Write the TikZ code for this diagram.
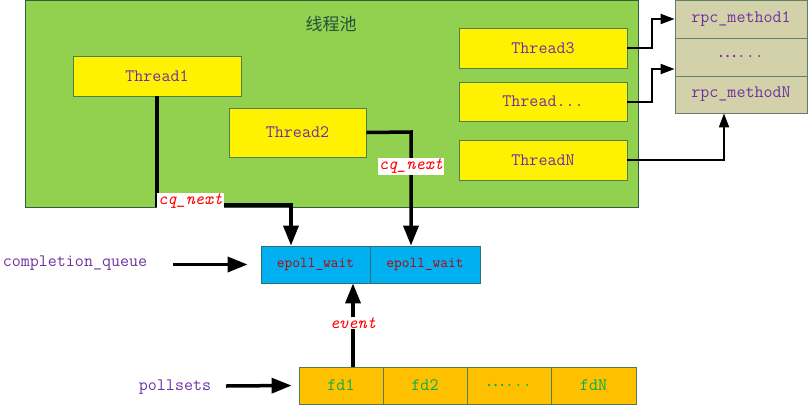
\documentclass[tikz,border=0pt]{standalone}
\usepackage{fontspec}
\newfontfamily\cjk{Noto Sans CJK SC}
\usetikzlibrary{arrows.meta}
\definecolor{poolgreen}{HTML}{92D050}
\definecolor{pooledge}{HTML}{2F5F3A}
\definecolor{boxedge}{HTML}{4F7F4F}
\definecolor{txtpurple}{HTML}{7030A0}
\definecolor{rpcfill}{HTML}{D3D1AA}
\definecolor{rpcedge}{HTML}{5F7F6A}
\definecolor{epblue}{HTML}{00B0F0}
\definecolor{epedge}{HTML}{2F6F6F}
\definecolor{eptxt}{HTML}{C00000}
\definecolor{fdorange}{HTML}{FFC000}
\definecolor{fdtxt}{HTML}{00B050}
\definecolor{titlecol}{HTML}{24503A}
\tikzset{
  mono/.style={font=\ttfamily\fontsize{17.5}{20}\selectfont},
  thread/.style={draw=boxedge, fill=yellow, mono, text=txtpurple, inner sep=0pt, line width=0.8pt},
  rpc/.style={draw=rpcedge, fill=rpcfill, mono, text=txtpurple, inner sep=0pt, minimum width=132pt, line width=0.8pt},
  ep/.style={draw=epedge, fill=epblue, font=\ttfamily\fontsize{15}{18}\selectfont, text=eptxt, inner sep=0pt, minimum height=37pt, line width=0.8pt},
  fd/.style={draw=boxedge, fill=fdorange, mono, text=fdtxt, inner sep=0pt, minimum height=37pt, line width=0.8pt},
  lbl/.style={mono, text=txtpurple, inner sep=0pt},
  red/.style={font=\ttfamily\itshape\fontsize{17.5}{20}\selectfont, text=red, fill=white, inner sep=1pt},
  bigarrow/.style={line width=3.5pt, -{Triangle[length=20pt,width=15pt]}},
  thinarrow/.style={line width=2pt, -{Triangle[length=14pt,width=10pt]}},
}
\begin{document}
\begin{tikzpicture}[x=1pt,y=-1pt]
\useasboundingbox (0,0) rectangle (808,405);
% thread pool
\node[draw=pooledge, fill=poolgreen, line width=1pt, minimum width=613pt, minimum height=207pt, inner sep=0pt] (pool) at (331.5,104) {};
\node[font=\cjk\fontsize{17}{20}\selectfont, text=titlecol] (title) at (331,24) {线程池};
\node[thread, minimum width=168pt, minimum height=40pt] (t1) at (157,76) {Thread1};
\node[thread, minimum width=137pt, minimum height=49pt] (t2) at (297.5,132.5) {Thread2};
\node[thread, minimum width=168pt, minimum height=40pt] (t3) at (543,48) {Thread3};
\node[thread, minimum width=168pt, minimum height=39pt] (td) at (543,101.5) {Thread...};
\node[thread, minimum width=168pt, minimum height=40pt] (tn) at (543,160) {ThreadN};
% rpc table
\node[rpc, minimum height=38pt] (r1) at (741,19) {rpc\_method1};
\node[rpc, minimum height=38pt] (r2) at (741,57) {{\cjk …}...};
\node[rpc, minimum height=37pt] (rn) at (741,94.5) {rpc\_methodN};
% epoll
\node[ep, minimum width=109pt] (e1) at (315.5,264.5) {epoll\_wait};
\node[ep, minimum width=110pt] (e2) at (425,264.5) {epoll\_wait};
% fds
\node[fd, minimum width=84pt] (f1) at (341,385.5) {fd1};
\node[fd, minimum width=84pt] (f2) at (425,385.5) {fd2};
\node[fd, minimum width=84pt] (f3) at (509,385.5) {{\cjk …}...};
\node[fd, minimum width=85pt] (fn) at (593.5,385.5) {fdN};
% left labels
\node[lbl] (cq) at (75,263) {completion\_queue};
\node[lbl] (ps) at (175,387) {pollsets};
% connectors
\coordinate (c1) at (291,205);
\coordinate (c2) at (411,132);
\draw[bigarrow] (t1.south) |- (c1) -- (c1 |- e1.north);
\draw[bigarrow] (t2.east) -- (c2) -- (c2 |- e2.north);
\node[red, anchor=west] (l1) at (157,201.5) {cq\_next};
\node[red] (l2) at (411,166.5) {cq\_next};
\coordinate (cqa) at (173,264.5);
\draw[bigarrow] (cqa) -- ([xshift=-13pt]e1.west);
\coordinate (psa) at (226,386);
\draw[bigarrow] (psa) -- ([xshift=-7pt]f1.west);
\coordinate (ev) at (353,367);
\draw[bigarrow] (ev) -- (ev |- e1.south);
\node[red] (evl) at (353,323) {event};
\draw[thinarrow] (t3.east) -- ++(25,0) |- (r1.west);
\draw[thinarrow] (td.east) -- ++(25,0) |- ([yshift=-12pt]r2.west);
\draw[thinarrow] (tn.east) -| ([xshift=-17pt]rn.south);
\end{tikzpicture}
\end{document}
